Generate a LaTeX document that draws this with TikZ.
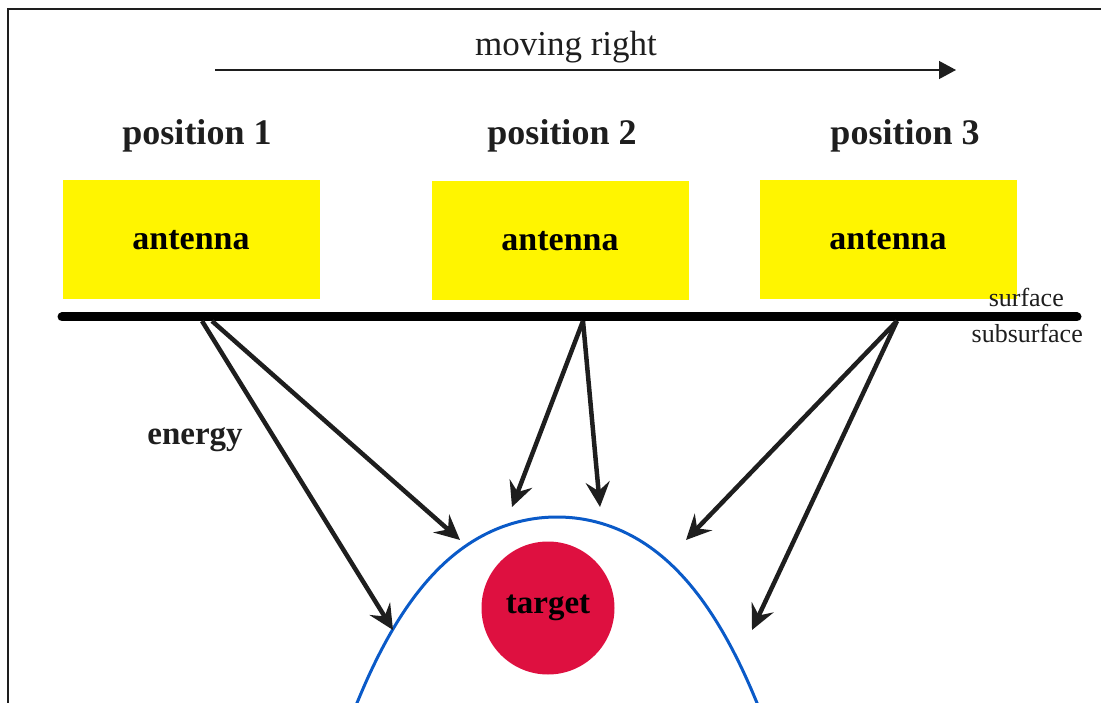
\documentclass[tikz,border=0pt]{standalone}
\usepackage{fontspec}
\setmainfont{Liberation Serif}
\usetikzlibrary{arrows.meta}
\definecolor{antyellow}{RGB}{255,245,0}
\definecolor{tgtred}{RGB}{222,16,64}
\definecolor{parblue}{RGB}{10,90,200}
\definecolor{ink}{RGB}{30,30,30}
\tikzset{
  antbox/.style={fill=antyellow, draw=none, minimum width=257pt, minimum height=119pt, inner sep=0pt,
    font=\fontsize{34}{34}\selectfont\bfseries},
  postext/.style={font=\fontsize{36}{36}\selectfont\bfseries, text=ink},
  energyarrow/.style={draw=ink, line width=4.5pt, -{Stealth[length=25pt, width=24pt, inset=9pt]}},
  smalltext/.style={font=\fontsize{26}{26}\selectfont, text=ink, inner sep=0pt}
}
\begin{document}
\begin{tikzpicture}[x=1pt,y=-1pt]
\useasboundingbox (0,0) rectangle (1101,703);
% frame
\draw[ink, line width=2.5pt] (8,703) -- (8,9) -- (1101,9);
% moving right
\node[font=\fontsize{35}{35}\selectfont, text=ink] (mv) at (566,47) {moving right};
\coordinate (mvs) at (215,70);
\coordinate (mve) at (956,70);
\draw[ink, line width=1.3pt, -{Triangle[length=17pt, width=18pt]}] (mvs) -- (mve);
% positions
\node[postext] (p1) at (197,136) {position 1};
\node[postext] (p2) at (562,136) {position 2};
\node[postext] (p3) at (905,136) {position 3};
% antennas
\node[antbox] (a1) at (191,240) {antenna};
\node[antbox] (a2) at (560,241) {antenna};
\node[antbox] (a3) at (888,240) {antenna};
% surface line
\coordinate (sl) at (62,317);
\coordinate (sr) at (1077,317);
\draw[black, line width=9pt, line cap=round] (sl) -- (sr);
\node[smalltext, anchor=east] (surf) at (1064,297) {surface};
\node[smalltext, anchor=east] (sub) at (1083,333) {subsurface};
% response curve
\draw[parblue, line width=3pt] plot[domain=-2.06:2.06, samples=121, smooth]
  ({557+100*\x},{517+31.7*\x*\x+3.7*\x*\x*\x*\x});
% target
\node[circle, fill=tgtred, minimum size=133pt, inner sep=0pt,
  font=\fontsize{33}{33}\selectfont\bfseries] (tg) at (548,608) {target};
% energy label
\node[font=\fontsize{33}{33}\selectfont\bfseries, text=ink] (en) at (195,440) {energy};
% arrow origins and tips
\coordinate (o1a) at (202,321);
\coordinate (o1b) at (212,321);
\coordinate (t1a) at (393,630);
\coordinate (t1b) at (460,540);
\coordinate (o2) at (583,321);
\coordinate (t2a) at (512,507);
\coordinate (t2b) at (600,507);
\coordinate (o3) at (897,321);
\coordinate (t3a) at (686,540);
\coordinate (t3b) at (752,630);
\draw[energyarrow] (o1a) -- (t1a);
\draw[energyarrow] (o1b) -- (t1b);
\draw[energyarrow] (o2) -- (t2a);
\draw[energyarrow] (o2) -- (t2b);
\draw[energyarrow] (o3) -- (t3a);
\draw[energyarrow] (o3) -- (t3b);
\end{tikzpicture}
\end{document}
